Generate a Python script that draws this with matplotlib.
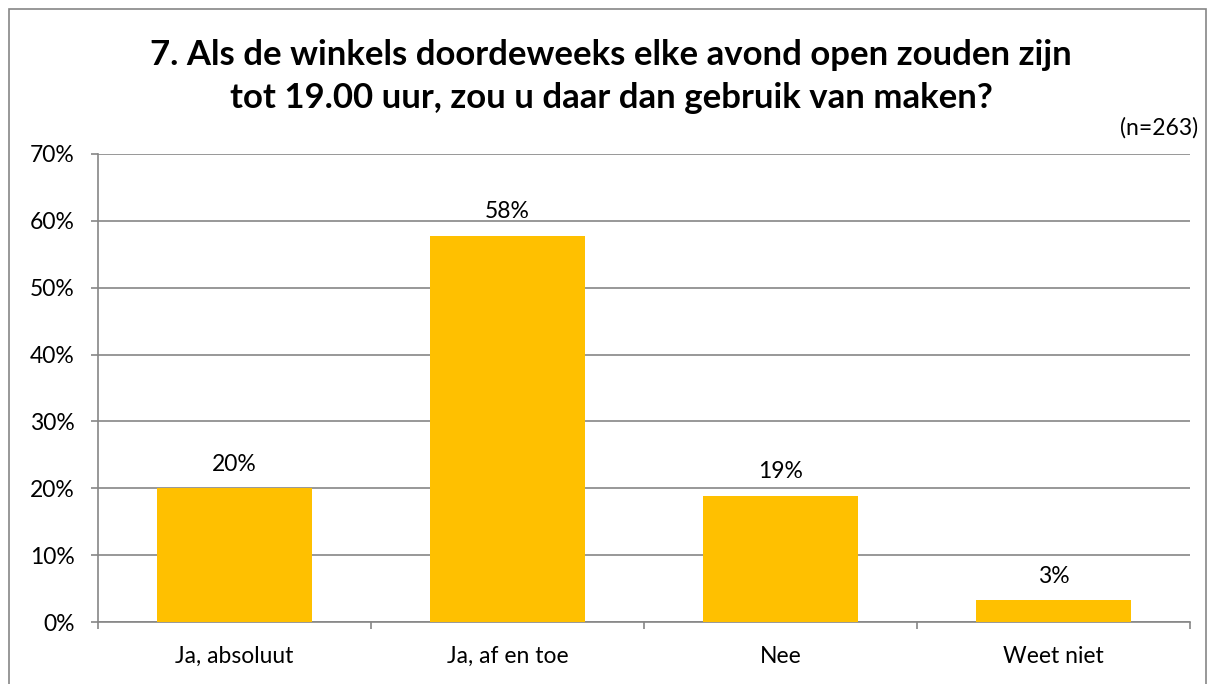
import matplotlib.pyplot as plt
from matplotlib.patches import Rectangle
from matplotlib.ticker import FuncFormatter

categories = ['Ja, absoluut', 'Ja, af en toe', 'Nee', 'Weet niet']
values = [20.0, 57.8, 18.9, 3.3]
labels = ['20%', '58%', '19%', '3%']

plt.rcParams['font.family'] = ['Lato', 'DejaVu Sans']

fig = plt.figure(figsize=(12.15, 6.84), dpi=100)
ax = fig.add_axes([0.0807, 0.0906, 0.8987, 0.6843])

grey = '#868686'
fs = 16.5
x = list(range(len(categories)))
ax.bar(x, values, width=0.57, color='#FFC000', zorder=3)
for xi, v, lab in zip(x, values, labels):
    ax.text(xi, v + 2.0, lab, ha='center', va='bottom', fontsize=fs, color='black')

ax.set_xlim(-0.5, 3.5)
ax.set_ylim(0, 70)
ax.set_yticks(range(0, 71, 10))
ax.yaxis.set_major_formatter(FuncFormatter(lambda v, p: '{:.0f}%'.format(v)))
ax.yaxis.grid(True, color=grey, linewidth=1.2, zorder=0)
ax.set_xticks(x)
ax.set_xticklabels(categories, fontsize=fs)
ax.set_xticks([-0.5, 0.5, 1.5, 2.5, 3.5], minor=True)
ax.tick_params(axis='x', which='major', length=0, pad=17)
ax.tick_params(axis='x', which='minor', length=5, width=1.2, color=grey, direction='out')
ax.tick_params(axis='y', length=5, width=1.2, color=grey, labelsize=fs, pad=12)

for s in ['top', 'right']:
    ax.spines[s].set_visible(False)
for s in ['left', 'bottom']:
    ax.spines[s].set_color(grey)
    ax.spines[s].set_linewidth(1.2)

fig.text(0.503, 0.888, '7. Als de winkels doordeweeks elke avond open zouden zijn\ntot 19.00 uur, zou u daar dan gebruik van maken?',
         ha='center', va='center', fontsize=25, fontweight='bold', linespacing=1.45)
fig.text(0.986, 0.813, '(n=263)', ha='right', va='center', fontsize=fs)

fig.patches.append(Rectangle((0.0074, -0.05), 0.985, 1.037, transform=fig.transFigure,
                             fill=False, edgecolor=grey, linewidth=1.2))

fig.savefig('out.png', dpi=100)
